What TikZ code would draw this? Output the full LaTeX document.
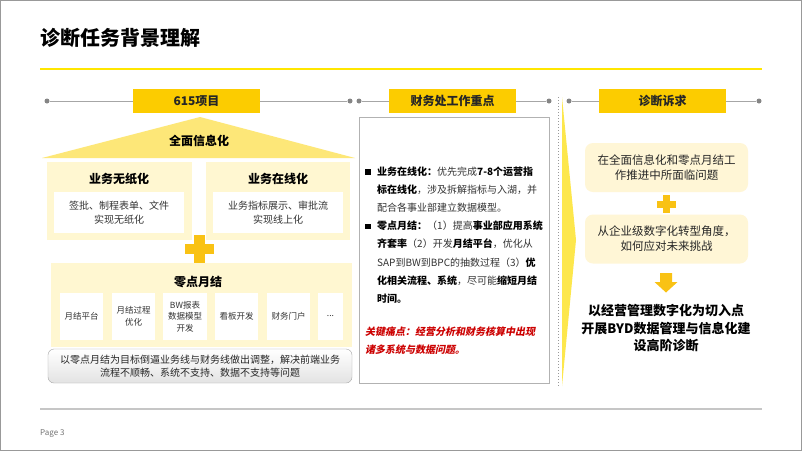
\documentclass[tikz,border=0pt]{standalone}
\usepackage{fontspec}
\setmainfont{Noto Sans CJK SC}
\newfontfamily\redfont[FakeSlant=0.2]{Noto Sans CJK SC}
\definecolor{gold}{RGB}{252,204,0}
\definecolor{rule}{RGB}{255,230,0}
\definecolor{roof}{RGB}{253,231,120}
\definecolor{pale}{RGB}{255,247,209}
\definecolor{paleR}{RGB}{255,246,214}
\definecolor{plusc}{RGB}{249,194,20}
\definecolor{wedge}{RGB}{253,231,76}
\definecolor{hline}{RGB}{166,166,166}
\definecolor{txt}{RGB}{51,51,51}
\definecolor{redt}{RGB}{204,0,0}
\tikzset{
  hdr/.style={fill=gold, minimum width=127pt, minimum height=24pt, inner sep=0, font=\fontsize{12}{14}\selectfont\bfseries, text=black!85},
  dotn/.style={circle, fill=hline!80!black, minimum size=5pt, inner sep=0},
  hln/.style={draw=hline, line width=0.9pt},
  panel/.style={fill=pale, inner sep=0},
  whitebox/.style={fill=white, inner sep=0, align=center, text=txt},
  ptitle/.style={font=\fontsize{12}{14}\selectfont\bfseries, inner sep=0},
  smallbox/.style={whitebox, minimum height=47pt, font=\fontsize{8.5}{11.5}\selectfont},
  mline/.style={anchor=west, inner sep=0, font=\fontsize{10}{12}\selectfont, text=txt, text height=8pt, text depth=2pt},
  bul/.style={fill=black, minimum size=5.5pt, inner sep=0},
  rbox/.style={fill=paleR, rounded corners=8pt, minimum width=163pt, minimum height=49pt, inner sep=0, align=center, font=\fontsize{11.5}{15}\selectfont, text=black!85},
}
\begin{document}
\begin{tikzpicture}[x=1pt,y=-1pt]
\useasboundingbox (0,0) rectangle (802,451);
\fill[white] (0,0) rectangle (802,451);
\draw[gray!80, line width=1pt] (0.5,0.5) rectangle (801.5,450.5);

% title
\node[anchor=west, inner sep=0, font=\fontsize{20}{24}\selectfont\bfseries] (title) at (40,38) {诊断任务背景理解};
\coordinate (r1) at (40,69); \coordinate (r2) at (762,69);
\draw[rule, line width=1.5pt] (r1) -- (r2);

% headers
\node[hdr] (h1) at (196.5,101) {615项目};
\node[hdr] (h2) at (452.5,101) {财务处工作重点};
\node[hdr] (h3) at (662.5,101) {诊断诉求};
\node[dotn] (d1) at (47,101) {};
\node[dotn] (d2) at (350,101) {};
\node[dotn] (d3) at (359,101) {};
\node[dotn] (d4) at (549,101) {};
\node[dotn] (d5) at (569,101) {};
\node[dotn] (d6) at (759,101) {};
\draw[hln] (d1) -- (h1.west); \draw[hln] (h1.east) -- (d2);
\draw[hln] (d3) -- (h2.west); \draw[hln] (h2.east) -- (d4);
\draw[hln] (d5) -- (h3.west); \draw[hln] (h3.east) -- (d6);

% roof
\fill[roof] (42,158) -- (200,117) -- (355,158) -- cycle;
\node[ptitle] (roofT) at (199,141) {全面信息化};

% upper panels
\node[panel, minimum width=145pt, minimum height=78pt] (p1) at (119.5,201) {};
\node[panel, minimum width=144pt, minimum height=78pt] (p2) at (278,201) {};
\node[ptitle] (p1t) at (119,179) {业务无纸化};
\node[ptitle] (p2t) at (278,179) {业务在线化};
\node[whitebox, minimum width=130pt, minimum height=41pt, font=\fontsize{10}{14}\selectfont] (w1) at (119,212.5) {签批、制程表单、文件\\实现无纸化};
\node[whitebox, minimum width=130pt, minimum height=41pt, font=\fontsize{10}{14}\selectfont] (w2) at (278,212.5) {业务指标展示、审批流\\实现线上化};

% bottom panel
\node[panel, minimum width=301pt, minimum height=84pt] (p3) at (201.5,305) {};
\node[ptitle] (p3t) at (198,282) {零点月结};
\node[smallbox, minimum width=43pt] (s1) at (81.5,316.5) {月结平台};
\node[smallbox, minimum width=43pt] (s2) at (133.5,316.5) {月结过程\\优化};
\node[smallbox, minimum width=44pt] (s3) at (185,316.5) {BW报表\\数据模型\\开发};
\node[smallbox, minimum width=43pt] (s4) at (236.5,316.5) {看板开发};
\node[smallbox, minimum width=43pt] (s5) at (288.5,316.5) {财务门户};
\node[smallbox, minimum width=25pt] (s6) at (330.5,316.5) {...};

% plus (left)
\fill[plusc] (194,235) rectangle (205,263);
\fill[plusc] (185,244) rectangle (214,254);

% gray note
\node[draw=gray!70, top color=white, bottom color=gray!22, rounded corners=6pt, minimum width=304pt, minimum height=34pt, inner sep=0, align=center, font=\fontsize{10}{13}\selectfont, text=black!85] (note) at (200,366) {以零点月结为目标倒逼业务线与财务线做出调整，解决前端业务\\流程不顺畅、系统不支持、数据不支持等问题};

% middle box
\node[draw=gray!60, line width=0.8pt, fill=white, minimum width=190pt, minimum height=266pt, inner sep=0] (mid) at (454,250) {};
\node[bul] (b1) at (368,172) {};
\node[bul] (b2) at (368,226.5) {};
\node[mline] (m1) at (377,172) {{\bfseries\color{black}业务在线化：}优先完成{\bfseries\color{black}7-8个运营指}};
\node[mline] (m2) at (377,190) {{\bfseries\color{black}标在线化}，涉及拆解指标与入湖，并};
\node[mline] (m3) at (377,208.3) {配合各事业部建立数据模型。};
\node[mline] (m4) at (377,226.5) {{\bfseries\color{black}零点月结：}（1）提高{\bfseries\color{black}事业部应用系统}};
\node[mline] (m5) at (377,244.7) {{\bfseries\color{black}齐套率}（2）开发{\bfseries\color{black}月结平台}，优化从};
\node[mline] (m6) at (377,263) {SAP到BW到BPC的抽数过程（3）{\bfseries\color{black}优}};
\node[mline] (m7) at (377,281.2) {{\bfseries\color{black}化相关流程、系统}，尽可能{\bfseries\color{black}缩短月结}};
\node[mline] (m8) at (377,299.4) {{\bfseries\color{black}时间。}};
\node[mline, text=redt, font=\fontsize{10}{12}\selectfont\redfont\bfseries] (k1) at (365,332) {关键痛点：经营分析和财务核算中出现};
\node[mline, text=redt, font=\fontsize{10}{12}\selectfont\redfont\bfseries] (k2) at (365,350.5) {诸多系统与数据问题。};

% dotted separator and wedge
\coordinate (v1) at (558,97); \coordinate (v2) at (558,386);
\draw[gray!80, line width=1pt, dotted] (v1) -- (v2);
\fill[wedge] (562,97) -- (576,240) -- (562,386) -- cycle;

% right column
\node[rbox] (q1) at (666.5,167.5) {在全面信息化和零点月结工\\作推进中所面临问题};
\fill[plusc] (663,195) rectangle (669.5,213);
\fill[plusc] (657,201) rectangle (675.5,207.5);
\node[rbox] (q2) at (666.5,239) {从企业级数字化转型角度，\\如何应对未来挑战};
\fill[plusc] (660,273) -- (672,273) -- (672,282) -- (677.5,282) -- (666,292.5) -- (654.5,282) -- (660,282) -- cycle;
\node[inner sep=0, align=center, font=\fontsize{13}{17.5}\selectfont\bfseries] (concl) at (666,328.5) {以经营管理数字化为切入点\\开展BYD数据管理与信息化建\\设高阶诊断};

% footer
\coordinate (f1) at (40,409); \coordinate (f2) at (762,409);
\draw[gray!45, line width=1.5pt] (f1) -- (f2);
\node[anchor=west, inner sep=0, font=\fontsize{8}{10}\selectfont, text=gray!90!black] (pg) at (40,434) {Page 3};
\end{tikzpicture}
\end{document}
